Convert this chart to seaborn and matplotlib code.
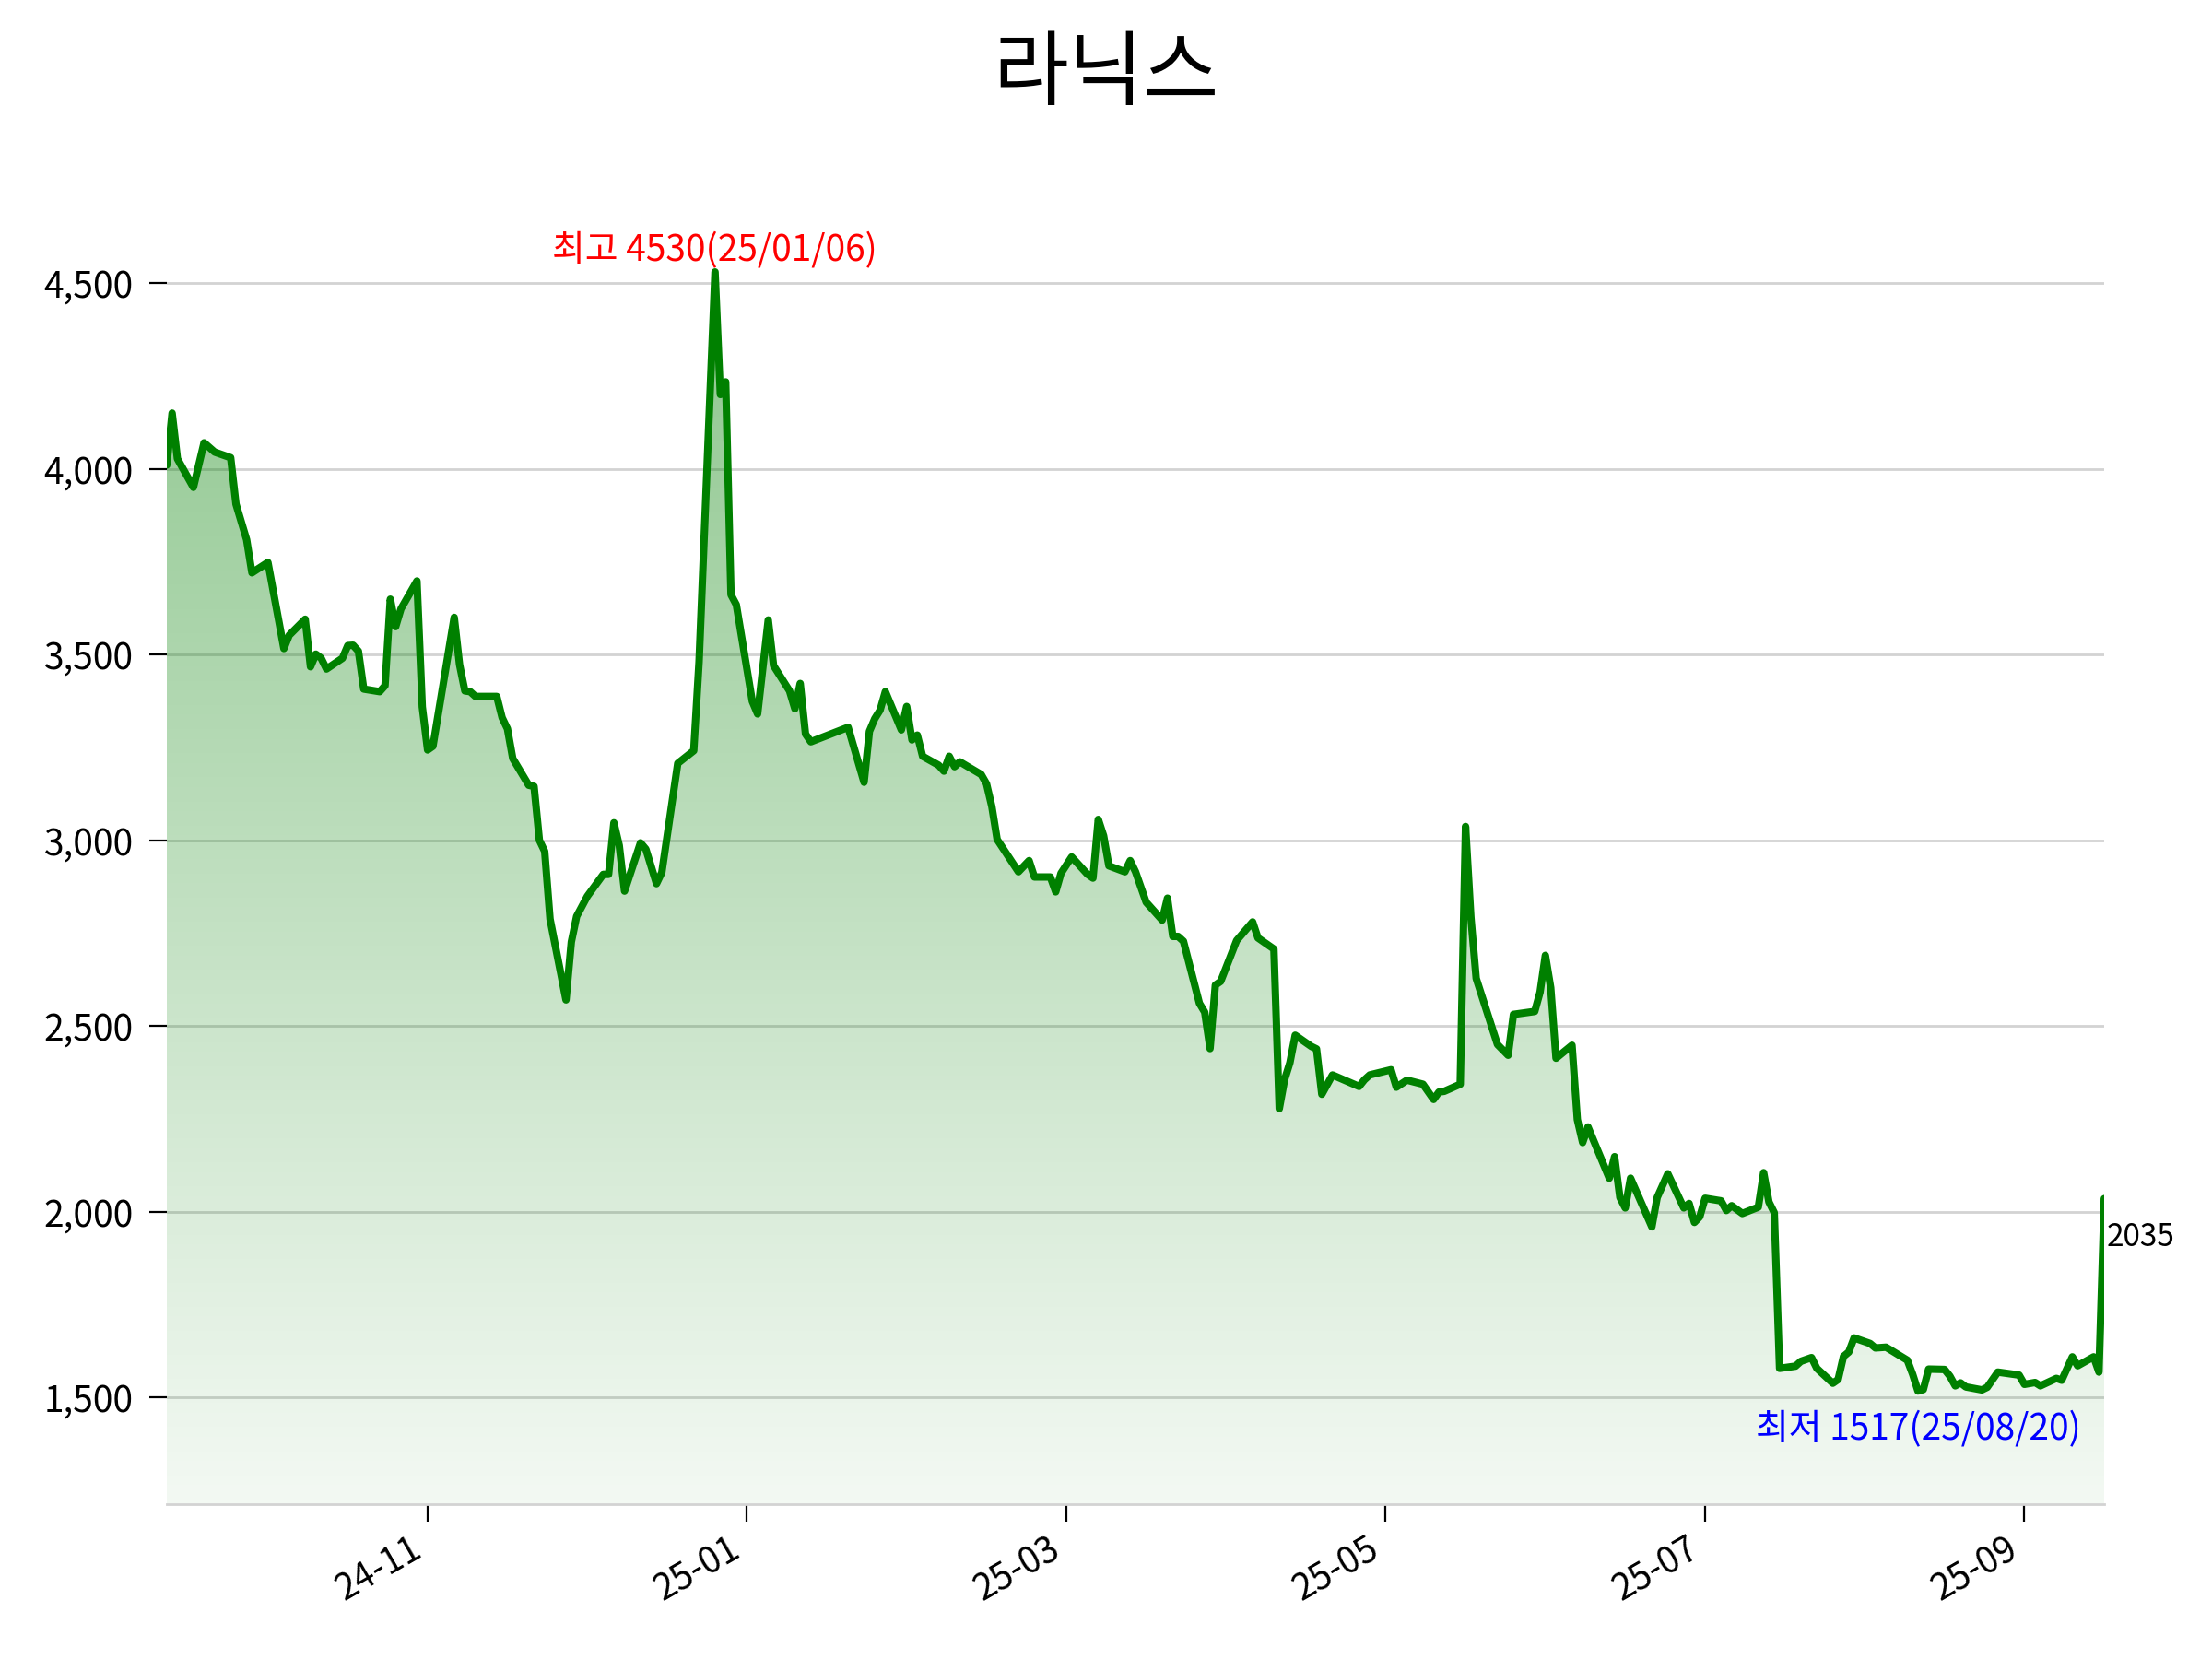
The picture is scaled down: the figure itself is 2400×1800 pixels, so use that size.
import numpy as np
import pandas as pd
import seaborn as sns
import matplotlib.pyplot as plt
import matplotlib.dates as mdates
import matplotlib.ticker as mticker
from matplotlib.colors import to_rgb
from matplotlib.patches import Polygon

title = '라닉스'

dates = [
    '2024-09-25', '2024-09-26', '2024-09-27', '2024-09-30', '2024-10-02', '2024-10-04',
    '2024-10-07', '2024-10-08', '2024-10-10', '2024-10-11', '2024-10-14', '2024-10-17',
    '2024-10-18', '2024-10-21', '2024-10-22', '2024-10-23', '2024-10-24', '2024-10-25',
    '2024-10-28', '2024-10-29', '2024-10-30', '2024-10-31', '2024-11-01', '2024-11-04',
    '2024-11-05', '2024-11-06', '2024-11-07', '2024-11-08', '2024-11-11', '2024-11-12',
    '2024-11-13', '2024-11-14', '2024-11-18', '2024-11-19', '2024-11-20', '2024-11-21',
    '2024-11-22', '2024-11-26', '2024-11-27', '2024-11-28', '2024-11-29', '2024-12-02',
    '2024-12-03', '2024-12-04', '2024-12-05', '2024-12-06', '2024-12-09', '2024-12-10',
    '2024-12-11', '2024-12-13', '2024-12-16', '2024-12-17', '2024-12-18', '2024-12-19',
    '2024-12-20', '2024-12-23', '2024-12-24', '2024-12-26', '2024-12-27', '2024-12-30',
    '2025-01-02', '2025-01-03', '2025-01-06', '2025-01-07', '2025-01-08', '2025-01-09',
    '2025-01-10', '2025-01-13', '2025-01-14', '2025-01-16', '2025-01-17', '2025-01-20',
    '2025-01-21', '2025-01-22', '2025-01-23', '2025-01-24', '2025-01-31', '2025-02-03',
    '2025-02-04', '2025-02-05', '2025-02-06', '2025-02-07', '2025-02-10', '2025-02-11',
    '2025-02-12', '2025-02-13', '2025-02-14', '2025-02-17', '2025-02-18', '2025-02-19',
    '2025-02-20', '2025-02-21', '2025-02-25', '2025-02-26', '2025-02-27', '2025-02-28',
    '2025-03-04', '2025-03-06', '2025-03-07', '2025-03-10', '2025-03-11', '2025-03-12',
    '2025-03-14', '2025-03-17', '2025-03-18', '2025-03-19', '2025-03-20', '2025-03-21',
    '2025-03-24', '2025-03-25', '2025-03-26', '2025-03-28', '2025-03-31', '2025-04-01',
    '2025-04-02', '2025-04-03', '2025-04-04', '2025-04-07', '2025-04-08', '2025-04-09',
    '2025-04-10', '2025-04-11', '2025-04-14', '2025-04-17', '2025-04-18', '2025-04-21',
    '2025-04-22', '2025-04-23', '2025-04-24', '2025-04-25', '2025-04-28', '2025-04-29',
    '2025-04-30', '2025-05-02', '2025-05-07', '2025-05-08', '2025-05-09', '2025-05-13',
    '2025-05-14', '2025-05-16', '2025-05-19', '2025-05-21', '2025-05-22', '2025-05-23',
    '2025-05-26', '2025-05-27', '2025-05-28', '2025-05-29', '2025-06-02', '2025-06-04',
    '2025-06-05', '2025-06-09', '2025-06-10', '2025-06-11', '2025-06-12', '2025-06-13',
    '2025-06-16', '2025-06-17', '2025-06-18', '2025-06-19', '2025-06-23', '2025-06-24',
    '2025-06-25', '2025-06-26', '2025-06-27', '2025-07-01', '2025-07-02', '2025-07-04',
    '2025-07-07', '2025-07-08', '2025-07-09', '2025-07-10', '2025-07-11', '2025-07-14',
    '2025-07-15', '2025-07-16', '2025-07-18', '2025-07-21', '2025-07-22', '2025-07-23',
    '2025-07-24', '2025-07-25', '2025-07-28', '2025-07-29', '2025-07-31', '2025-08-01',
    '2025-08-04', '2025-08-05', '2025-08-06', '2025-08-07', '2025-08-08', '2025-08-11',
    '2025-08-12', '2025-08-14', '2025-08-18', '2025-08-19', '2025-08-20', '2025-08-21',
    '2025-08-22', '2025-08-25', '2025-08-26', '2025-08-27', '2025-08-28', '2025-08-29',
    '2025-09-01', '2025-09-02', '2025-09-04', '2025-09-08', '2025-09-09', '2025-09-11',
    '2025-09-12', '2025-09-15', '2025-09-16', '2025-09-18', '2025-09-19', '2025-09-22',
    '2025-09-23', '2025-09-24',
]

closes = [
    4010, 4150, 4027, 3950, 4070, 4045,
    4030, 3905, 3809, 3720, 3748, 3516,
    3552, 3595, 3467, 3501, 3490, 3461,
    3490, 3524, 3525, 3509, 3407, 3400,
    3416, 3649, 3575, 3623, 3698, 3359,
    3243, 3253, 3600, 3473, 3402, 3400,
    3387, 3387, 3330, 3300, 3220, 3148,
    3145, 3000, 2970, 2788, 2570, 2726,
    2795, 2849, 2908, 2908, 3047, 2986,
    2863, 2993, 2976, 2883, 2913, 3207,
    3241, 3480, 4530, 4200, 4234, 3661,
    3634, 3374, 3340, 3593, 3470, 3402,
    3354, 3422, 3286, 3265, 3304, 3156,
    3293, 3327, 3350, 3400, 3297, 3360,
    3270, 3283, 3226, 3202, 3186, 3226,
    3198, 3211, 3177, 3152, 3091, 3002,
    2915, 2945, 2901, 2901, 2861, 2911,
    2955, 2908, 2898, 3056, 3012, 2931,
    2915, 2945, 2915, 2833, 2785, 2844,
    2741, 2741, 2728, 2561, 2537, 2439,
    2610, 2620, 2730, 2780, 2737, 2707,
    2277, 2355, 2401, 2475, 2445, 2438,
    2316, 2368, 2337, 2355, 2368, 2382,
    2335, 2354, 2343, 2302, 2322, 2324,
    2343, 3037, 2793, 2628, 2450, 2421,
    2531, 2539, 2591, 2690, 2603, 2413,
    2448, 2248, 2186, 2228, 2090, 2148,
    2038, 2010, 2090, 1959, 2038, 2102,
    2010, 2022, 1971, 1986, 2036, 2029,
    2003, 2016, 1995, 2012, 2105, 2026,
    1997, 1578, 1584, 1597, 1607, 1578,
    1538, 1548, 1610, 1622, 1660, 1645,
    1633, 1635, 1600, 1562, 1517, 1521,
    1576, 1575, 1557, 1531, 1539, 1528,
    1520, 1527, 1568, 1560, 1535, 1540,
    1531, 1551, 1546, 1609, 1585, 1609,
    1568, 2035,
]

df = pd.DataFrame({'date': pd.to_datetime(dates), 'close': closes})

sns.set_style('white')
plt.rcParams['font.family'] = ['Noto Sans CJK KR', 'DejaVu Sans']
plt.rcParams['axes.unicode_minus'] = False
plt.rcParams['text.color'] = 'black'
plt.rcParams['xtick.color'] = 'black'
plt.rcParams['ytick.color'] = 'black'

fig, ax = plt.subplots(figsize=(12, 9), dpi=200)
fig.subplots_adjust(left=0.0754, right=0.9513, bottom=0.0936, top=0.8868)

sns.lineplot(data=df, x='date', y='close', color='green', linewidth=2.9, ax=ax, zorder=3)

hi = df['close'].max()
lo = df['close'].min()
y_low = lo * 0.8
y_high = hi * 1.05
xs = mdates.date2num(df['date'])
x0, x1 = xs[0], xs[-1]

# gradient under the line
grad = np.zeros((256, 1, 4))
grad[:, :, :3] = to_rgb('green')
grad[:, :, 3] = np.linspace(0.05, 0.45, 256)[:, None]
im = ax.imshow(grad, aspect='auto', origin='lower', extent=[x0, x1, y_low, hi], zorder=2)
verts = np.column_stack([np.r_[x0, xs, x1], np.r_[y_low, df['close'].values, y_low]])
poly = Polygon(verts, closed=True, facecolor='none', edgecolor='none')
ax.add_patch(poly)
im.set_clip_path(poly)

ax.set_xlim(x0, x1)
ax.set_ylim(y_low, y_high)

# max / min / last labels
imax = df['close'].idxmax()
imin = df['close'].idxmin()
d_hi = df['date'][imax]
d_lo = df['date'][imin]
ax.annotate(f"최고 {hi:.0f}({d_hi:%y/%m/%d})", xy=(d_hi, hi), xytext=(0, 1),
            textcoords='offset points', ha='center', va='bottom', color='red', fontsize=14)
ax.annotate(f"최저 {lo:.0f}({d_lo:%y/%m/%d})", xy=(d_lo, lo), xytext=(0, -8),
            textcoords='offset points', ha='center', va='top', color='blue', fontsize=14)
last_d = df['date'].iloc[-1]
last_v = df['close'].iloc[-1]
ax.annotate(f"{last_v:.0f}", xy=(last_d, last_v), xytext=(1, -15),
            textcoords='offset points', ha='left', va='center', color='black', fontsize=12,
            annotation_clip=False)

fig.suptitle(title, fontsize=32, color='black')

ax.xaxis.set_major_locator(mticker.MultipleLocator(60))
ax.xaxis.set_major_formatter(mdates.DateFormatter('%y-%m'))
ax.yaxis.set_major_locator(mticker.MultipleLocator(500))
ax.yaxis.set_major_formatter(mticker.FuncFormatter(lambda v, p: f'{v:,.0f}'))
ax.tick_params(axis='both', labelsize=14, length=7, width=0.8, color='black',
               labelcolor='black', bottom=True, left=True)
ax.tick_params(axis='y', pad=6)
plt.setp(ax.get_xticklabels(), rotation=30, ha='right')
ax.set_xlabel('')
ax.set_ylabel('')

ax.yaxis.grid(True, color='#d3d3d3', linewidth=1)
ax.xaxis.grid(False)
sns.despine(ax=ax, left=True)
ax.spines['bottom'].set_color('#d3d3d3')
ax.spines['bottom'].set_linewidth(1)

plt.savefig('out.png', dpi=200)
